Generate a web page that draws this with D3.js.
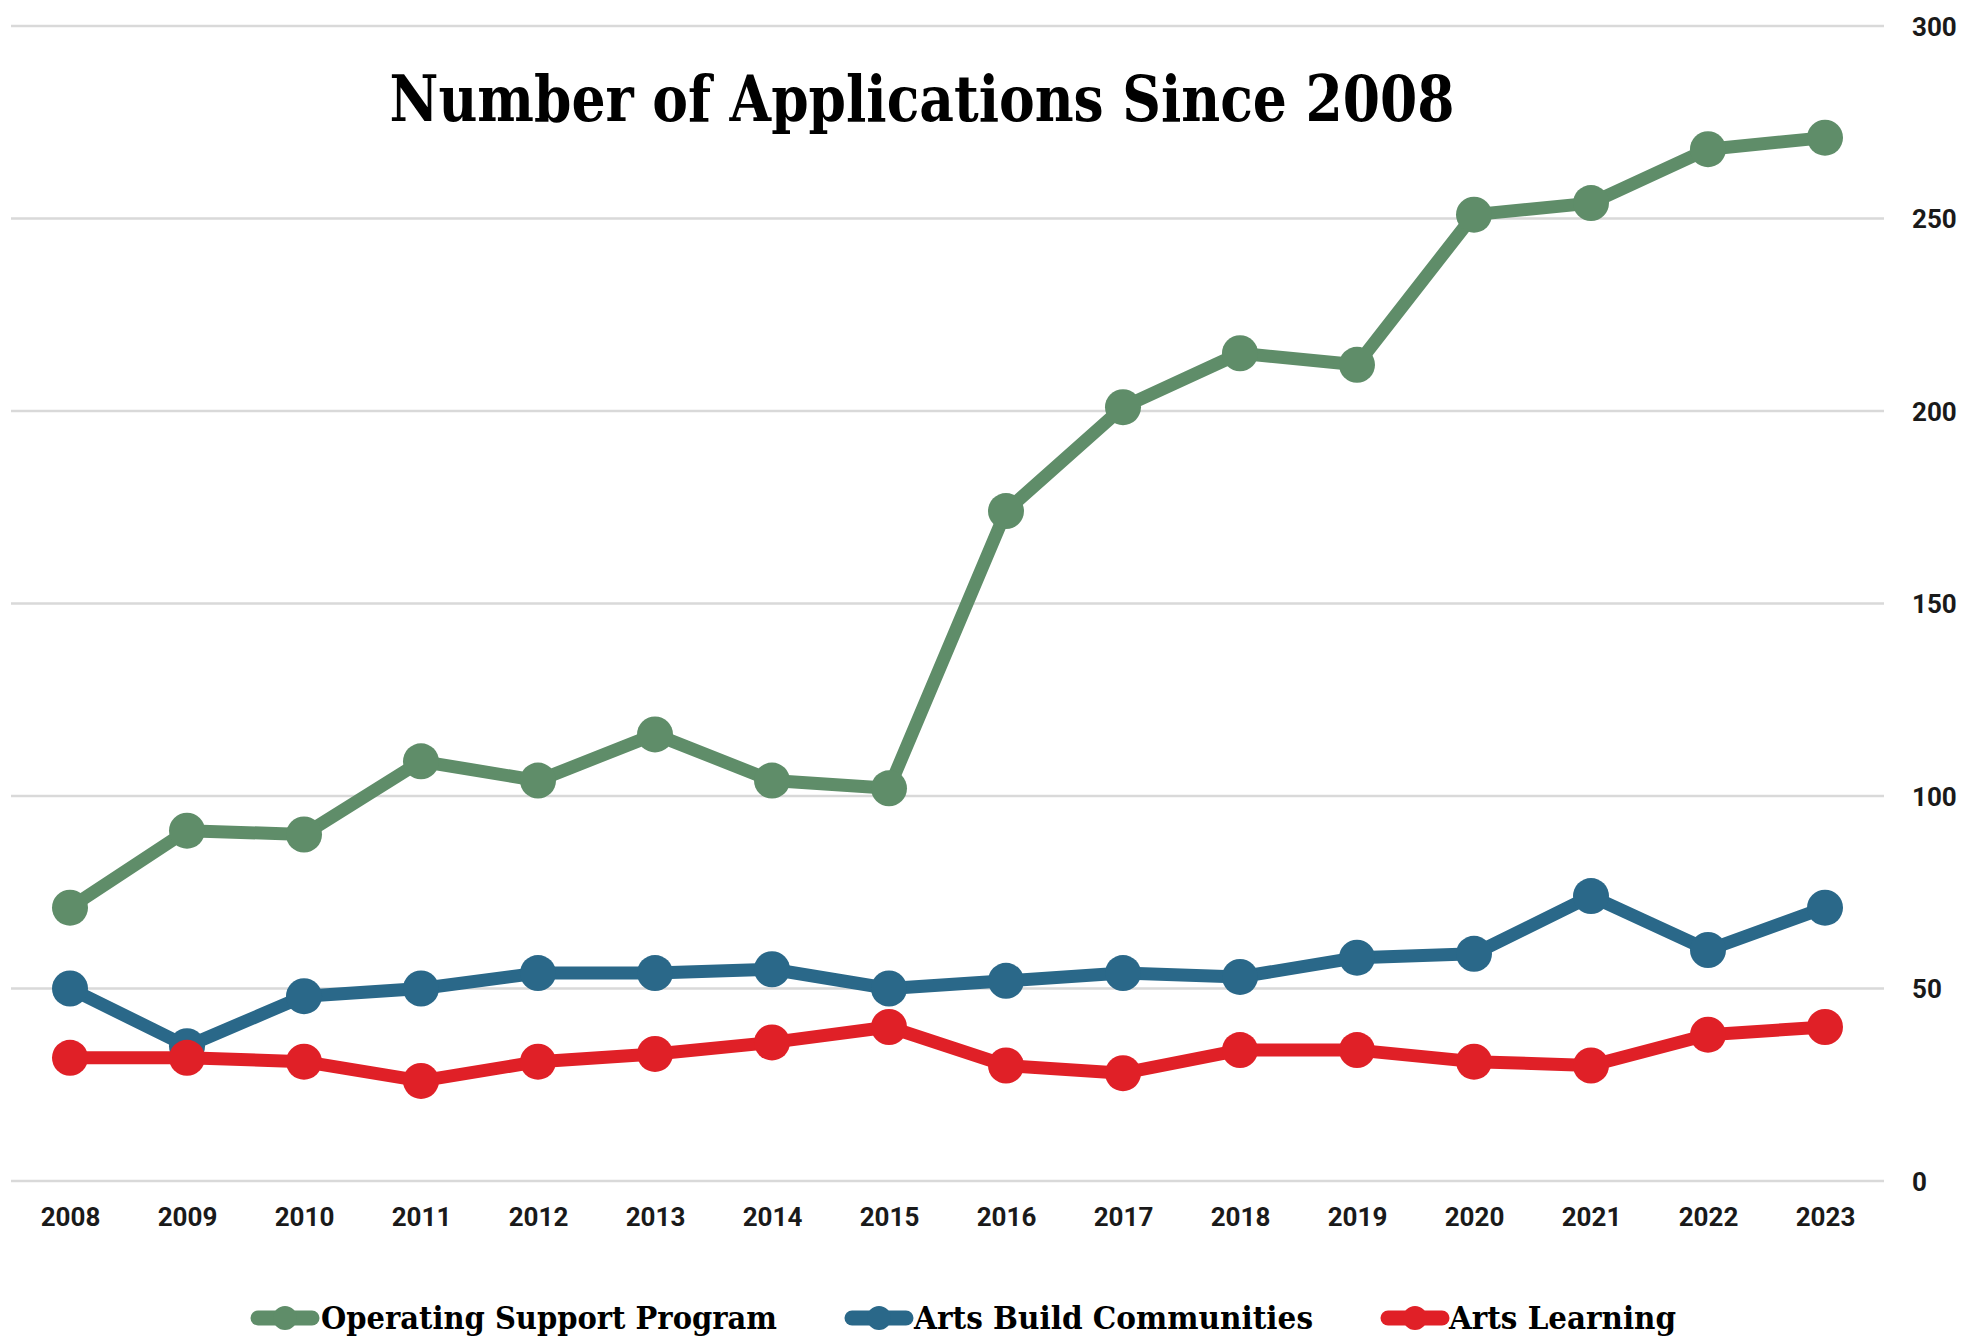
<!DOCTYPE html>
<html>
<head>
<meta charset="utf-8">
<script src="https://cdn.jsdelivr.net/npm/d3@7"></script>
<style>
  html, body { margin: 0; padding: 0; background: #fff; }
  svg { display: block; }
</style>
</head>
<body>
<div id="chart"></div>
<script>
const years = ["2008","2009","2010","2011","2012","2013","2014","2015","2016","2017","2018","2019","2020","2021","2022","2023"];
const operatingSupport = [71, 91, 90, 109, 104, 116, 104, 102, 174, 201, 215, 212, 251, 254, 268, 271];
const artsBuildCommunities = [50, 35, 48, 50, 54, 54, 55, 50, 52, 54, 53, 58, 59, 74, 60, 71];
const artsLearning = [32, 32, 31, 26, 31, 33, 36, 40, 30, 28, 34, 34, 31, 30, 38, 40];
const yTicks = [0, 50, 100, 150, 200, 250, 300];
const seriesNames = ["Operating Support Program", "Arts Build Communities", "Arts Learning"];
const seriesColors = ["#5f8d69", "#2a6889", "#e02027"];
const titleText = "Number of Applications Since 2008";

const W = 1972, H = 1340;
const svg = d3.select("#chart").append("svg").attr("width", W).attr("height", H);

const x = d3.scalePoint().domain(years).range([70, 1825]);
const y = d3.scaleLinear().domain([0, 300]).range([1181, 26]);

// gridlines
svg.append("g").selectAll("line").data(yTicks).join("line")
  .attr("x1", 11).attr("x2", 1884)
  .attr("y1", d => y(d)).attr("y2", d => y(d))
  .attr("stroke", "#d9d9d9").attr("stroke-width", 2.5);

// y axis labels (right)
const yAxis = d3.axisRight(y).tickValues(yTicks).tickSize(0).tickPadding(0);
const gy = svg.append("g").attr("transform", "translate(1912,0)").call(yAxis);
gy.select(".domain").remove();
gy.selectAll("text")
  .attr("font-family", "Roboto").attr("font-weight", 700).attr("font-size", 26)
  .attr("fill", "#1a1a1a").attr("text-anchor", "start").attr("dy", "0.35em");

// x axis labels
const xAxis = d3.axisBottom(x).tickSize(0).tickPadding(0);
const gx = svg.append("g").attr("transform", "translate(0,1217)").call(xAxis);
gx.select(".domain").remove();
gx.selectAll("text")
  .attr("font-family", "Roboto").attr("font-weight", 700).attr("font-size", 26)
  .attr("fill", "#1a1a1a").attr("dy", "0.35em");

// title
svg.append("text")
  .attr("x", 922).attr("y", 121)
  .attr("text-anchor", "middle")
  .attr("font-family", "'DejaVu Serif Condensed', 'DejaVu Serif', serif")
  .attr("font-weight", 700).attr("font-size", 64)
  .attr("textLength", 1065).attr("lengthAdjust", "spacingAndGlyphs")
  .attr("fill", "#000")
  .text(titleText);

// series
const allSeries = [operatingSupport, artsBuildCommunities, artsLearning];
const line = d3.line().x((d, i) => x(years[i])).y(d => y(d));

allSeries.forEach((vals, si) => {
  const g = svg.append("g");
  g.append("path").datum(vals)
    .attr("d", line)
    .attr("fill", "none")
    .attr("stroke", seriesColors[si])
    .attr("stroke-width", 13)
    .attr("stroke-linejoin", "round")
    .attr("stroke-linecap", "round");
  g.selectAll("circle").data(vals).join("circle")
    .attr("cx", (d, i) => x(years[i]))
    .attr("cy", d => y(d))
    .attr("r", 18)
    .attr("fill", seriesColors[si]);
});

// legend
const legendItems = [
  { lx: 258, tx: 321, tw: 456 },
  { lx: 852, tx: 914, tw: 399 },
  { lx: 1388, tx: 1449, tw: 227 }
];
const legendY = 1318;
legendItems.forEach((it, i) => {
  const g = svg.append("g");
  g.append("line")
    .attr("x1", it.lx).attr("x2", it.lx + 54)
    .attr("y1", legendY).attr("y2", legendY)
    .attr("stroke", seriesColors[i]).attr("stroke-width", 15)
    .attr("stroke-linecap", "round");
  g.append("circle")
    .attr("cx", it.lx + 27).attr("cy", legendY).attr("r", 12)
    .attr("fill", seriesColors[i]);
  g.append("text")
    .attr("x", it.tx).attr("y", legendY + 11)
    .attr("font-family", "'DejaVu Serif Condensed', 'DejaVu Serif', serif")
    .attr("font-weight", 700).attr("font-size", 32)
    .attr("textLength", it.tw).attr("lengthAdjust", "spacingAndGlyphs")
    .attr("fill", "#000")
    .text(seriesNames[i]);
});
</script>
</body>
</html>
